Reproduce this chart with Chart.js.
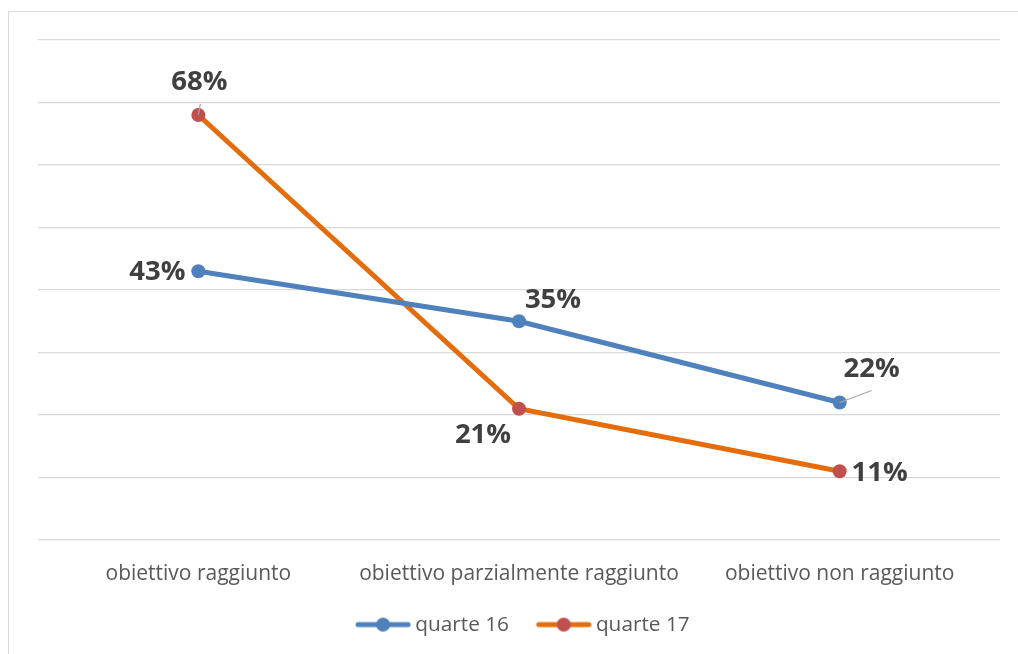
<!DOCTYPE html>
<html>
<head>
<meta charset="utf-8">
<script src="https://cdn.jsdelivr.net/npm/chart.js@4"></script>
<style>
  html, body { margin: 0; padding: 0; background: #fff; }
  #wrap { position: relative; width: 1018px; height: 654px; overflow: hidden; }
  #frame { position: absolute; left: 8px; top: 11px; width: 1100px; height: 700px; border: 1px solid #d9d9d9; }
  #chart { position: absolute; left: 0; top: 0; }
</style>
</head>
<body>
<div id="wrap">
  <div id="frame"></div>
  <canvas id="chart" width="1018" height="654"></canvas>
</div>
<script>
const categories = ['obiettivo raggiunto', 'obiettivo parzialmente raggiunto', 'obiettivo non raggiunto'];
const quarte16 = [43, 35, 22];
const quarte17 = [68, 21, 11];
const seriesNames = ['quarte 16', 'quarte 17'];

const blue = '#4f81bd';
const orange = '#e46c0a';
const red = '#c0504d';

// where each value label sits relative to its point: [dx, dy, leader line?]
const labelOffsets = [
    [[-41, 1, false], [34, -21, false], [32, -33, true]],
    [[1, -33, true], [-36, 26, false], [40, 2, false]]
];

// line + dot swatch, drawn on the right part of a wider transparent canvas
// so the gap before each legend item matches the original
function legendIcon(lineColor, dotColor) {
    const c = document.createElement('canvas');
    c.width = 82;
    c.height = 16;
    const ctx = c.getContext('2d');
    ctx.strokeStyle = lineColor;
    ctx.lineWidth = 5;
    ctx.lineCap = 'round';
    ctx.beginPath();
    ctx.moveTo(29, 8);
    ctx.lineTo(79, 8);
    ctx.stroke();
    ctx.fillStyle = dotColor;
    ctx.beginPath();
    ctx.arc(54, 8, 7, 0, Math.PI * 2);
    ctx.fill();
    return c;
}

const valueLabels = {
    id: 'valueLabels',
    afterDatasetsDraw(chart) {
        const ctx = chart.ctx;
        ctx.save();
        ctx.font = 'bold 27.5px "Open Sans"';
        ctx.textAlign = 'center';
        ctx.textBaseline = 'middle';
        chart.data.datasets.forEach((ds, i) => {
            chart.getDatasetMeta(i).data.forEach((pt, j) => {
                const [dx, dy, leader] = labelOffsets[i][j];
                if (leader) {
                    ctx.strokeStyle = '#a6a6a6';
                    ctx.lineWidth = 1.2;
                    ctx.beginPath();
                    ctx.moveTo(pt.x, pt.y);
                    if (dy < -30 && Math.abs(dx) < 5) ctx.lineTo(pt.x + 2, pt.y - 11);
                    else ctx.lineTo(pt.x + 32, pt.y - 12);
                    ctx.stroke();
                }
                ctx.fillStyle = '#404040';
                ctx.fillText(ds.data[j] + '%', pt.x + dx, pt.y + dy);
            });
        });
        ctx.restore();
    }
};

new Chart(document.getElementById('chart'), {
    type: 'line',
    data: {
        labels: categories,
        datasets: [{
            label: seriesNames[0],
            data: quarte16,
            borderColor: blue,
            backgroundColor: blue,
            borderWidth: 5,
            pointRadius: 7,
            pointBackgroundColor: blue,
            pointBorderWidth: 0,
            pointStyle: 'circle'
        }, {
            label: seriesNames[1],
            data: quarte17,
            borderColor: orange,
            backgroundColor: orange,
            borderWidth: 5,
            pointRadius: 7,
            pointBackgroundColor: red,
            pointBorderWidth: 0,
            pointStyle: 'circle'
        }]
    },
    options: {
        responsive: false,
        animation: false,
        layout: { padding: { left: 25, right: 18, top: 40, bottom: 9 } },
        plugins: {
            tooltip: { enabled: false },
            legend: {
                position: 'bottom',
                labels: {
                    usePointStyle: true,
                    pointStyleWidth: 69.5,
                    padding: 7,
                    color: '#595959',
                    font: { family: '"Open Sans"', size: 20.8 },
                    generateLabels(chart) {
                        return chart.data.datasets.map((ds, i) => ({
                            text: ds.label,
                            pointStyle: legendIcon(ds.borderColor, ds.pointBackgroundColor),
                            fontColor: '#595959',
                            lineWidth: 0,
                            strokeStyle: 'transparent',
                            fillStyle: 'transparent',
                            datasetIndex: i
                        }));
                    }
                }
            }
        },
        scales: {
            x: {
                offset: true,
                grid: { display: false, drawTicks: false },
                border: { display: false },
                ticks: {
                    color: '#595959',
                    padding: 21,
                    maxRotation: 0,
                    minRotation: 0,
                    autoSkip: false,
                    font: { family: '"Open Sans"', size: 21 }
                }
            },
            y: {
                min: 0,
                max: 80,
                afterFit(scale) { scale.width = 13; },
                ticks: { display: false, stepSize: 10 },
                grid: { color: '#d9d9d9', lineWidth: 1.3, drawTicks: false },
                border: { display: false }
            }
        }
    },
    plugins: [valueLabels]
});
</script>
</body>
</html>
